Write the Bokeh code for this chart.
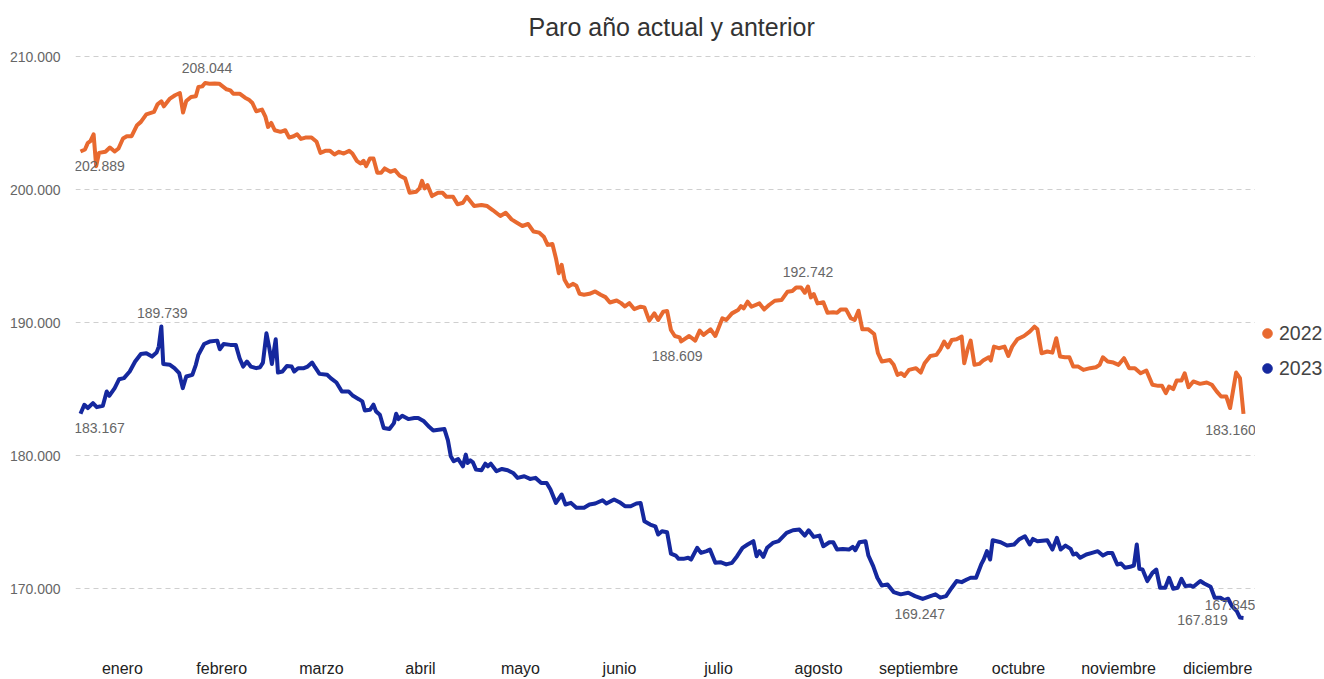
from bokeh.plotting import figure
from bokeh.layouts import row
from bokeh.models import ColumnDataSource, FixedTicker, Legend, LegendItem
from bokeh.embed import file_html
from bokeh.resources import INLINE
from bokeh.core.properties import value

titulo = "Paro año actual y anterior"
meses = ["enero", "febrero", "marzo", "abril", "mayo", "junio", "julio",
         "agosto", "septiembre", "octubre", "noviembre", "diciembre"]
posicion_meses = [14.1, 45.2, 76.4, 107.4, 138.7, 169.7, 200.7, 232.0, 263.3, 294.6, 325.9, 356.9]
ticks_y = [170000, 180000, 190000, 200000, 210000]
series = ["2022", "2023"]

# día del año y paro registrado (miles)
dias_2022 = [1, 2.4, 3.3, 4.1, 5.1, 5.9, 6.8, 8.8, 10.2, 11.7, 12.9, 14.3, 15.5, 17.0, 18.7, 19.9,
             21.6, 24.0, 25.1, 26.3, 27.1, 29.0, 30.6, 32.1, 33.1, 34.1, 35.6, 37.1, 37.9, 39.1,
             40.0, 41.4, 43.0, 44.4, 45.5, 46.7, 47.9, 48.8, 50.8, 52.5, 53.7, 54.8, 56.0, 57.8,
             58.9, 59.7, 60.7, 61.8, 63.6, 65.1, 66.3, 67.7, 68.8, 70.0, 71.4, 73.3, 74.9, 76.1,
             77.6, 79.1, 80.5, 81.9, 83.4, 85.1, 86.1, 87.5, 88.6, 89.6, 90.4, 91.6, 92.7, 93.9,
             95.1, 96.2, 98.0, 99.4, 100.9, 102.6, 104.0, 106.1, 107.1, 107.9, 108.7, 109.6,
             111.0, 112.9, 114.3, 115.5, 117.6, 119.0, 120.7, 121.9, 124.2, 126.5, 128.3, 130.0,
             132.4, 134.1, 135.9, 137.6, 139.3, 141.1, 142.8, 144.6, 146.0, 147.2, 148.7, 149.8,
             150.7, 151.6, 152.5, 153.7, 155.1, 156.2, 157.2, 158.6, 160.3, 162.1, 163.8, 165.3,
             166.7, 168.8, 170.2, 171.4, 172.8, 174.3, 176.3, 177.5, 179.0, 180.6, 181.8, 183.4,
             184.6, 185.8, 187.0, 188.5, 189.0, 191.5, 193.4, 194.8, 196.0, 198.2, 199.7, 201.9,
             203.1, 204.9, 206.8, 207.7, 208.6, 209.8, 211.0, 213.5, 215.0, 216.5, 218.3, 220.4,
             222.3, 223.8, 225.0, 226.5, 227.7, 228.7, 229.6, 230.5, 231.7, 233.5, 234.8, 236.6,
             237.8, 239.0, 240.6, 242.1, 243.3, 244.5, 245.7, 247.6, 249.4, 250.6, 251.8, 254.3,
             255.5, 256.7, 257.9, 258.9, 260.3, 262.5, 264.0, 265.2, 267.0, 268.9, 270.1, 271.3,
             272.5, 273.7, 275.2, 276.8, 277.6, 278.6, 279.6, 280.8, 282.3, 283.5, 285.3, 285.9,
             286.9, 288.4, 290.2, 291.4, 292.6, 294.2, 296.3, 298.1, 299.6, 300.5, 301.8, 303.6,
             305.2, 306.4, 307.6, 309.1, 310.5, 311.7, 313.3, 314.9, 317.0, 318.8, 320.0, 321.0,
             322.5, 324.3, 325.9, 327.6, 329.2, 331.0, 332.8, 334.6, 336.5, 338.3, 339.5, 340.7,
             341.7, 343.0, 344.1, 345.6, 346.6, 347.8, 349.3, 351.4, 353.5, 355.1, 356.6, 358.0,
             359.6, 360.8, 362.7, 363.9, 365.0]
paro_2022 = [202.889, 203.04, 203.54, 203.67, 204.19, 201.79, 202.79, 202.87, 203.19, 202.89, 203.12,
             203.87, 204.04, 204.04, 204.87, 205.12, 205.69, 205.87, 206.44, 206.67, 206.29, 206.87,
             207.12, 207.29, 205.82, 206.69, 206.99, 207.04, 207.74, 207.79, 208.044, 207.99, 208.00,
             207.99, 207.79, 207.57, 207.49, 207.24, 207.24, 206.94, 206.79, 206.54, 205.92, 206.04,
             205.49, 204.74, 205.04, 204.49, 204.37, 204.49, 203.94, 204.04, 204.19, 203.84, 203.94,
             203.94, 203.62, 202.79, 202.94, 202.94, 202.67, 202.87, 202.74, 202.94, 202.74, 202.19,
             201.99, 202.19, 201.79, 202.37, 202.37, 201.29, 201.29, 201.62, 201.37, 201.49, 201.07,
             200.87, 199.79, 199.87, 200.12, 200.69, 200.12, 200.37, 199.54, 199.79, 199.79, 199.49,
             199.49, 198.92, 199.04, 199.49, 198.79, 198.87, 198.79, 198.49, 198.04, 198.29, 197.79,
             197.54, 197.29, 197.44, 196.87, 196.79, 196.49, 195.87, 195.94, 194.87, 193.74, 194.37,
             193.24, 192.74, 192.94, 192.79, 192.19, 192.12, 192.19, 192.37, 192.12, 191.94, 191.54,
             191.69, 191.49, 191.24, 191.49, 191.04, 191.22, 191.17, 190.17, 190.72, 190.22, 190.85,
             190.90, 189.47, 189.02, 188.92, 188.609, 189.02, 188.67, 189.42, 189.10, 189.52, 189.02,
             190.35, 190.22, 190.72, 190.97, 191.27, 191.10, 191.60, 191.22, 191.47, 191.02, 191.35,
             191.67, 191.72, 192.35, 192.40, 192.67, 192.67, 192.27, 192.742, 191.92, 192.17, 191.47,
             191.55, 190.77, 190.80, 190.77, 191.02, 191.02, 190.35, 190.22, 190.92, 189.52, 189.52,
             189.17, 187.72, 187.10, 187.22, 186.85, 186.10, 186.22, 186.02, 186.47, 186.60, 186.27,
             186.97, 187.52, 187.60, 188.02, 188.60, 188.17, 188.72, 188.77, 188.97, 186.97, 187.97,
             188.67, 186.85, 186.92, 187.17, 187.42, 187.17, 188.22, 188.10, 188.22, 187.52, 188.22,
             188.77, 189.02, 189.35, 189.72, 189.52, 187.72, 187.85, 187.77, 188.85, 187.47, 187.42,
             187.42, 186.72, 186.72, 186.47, 186.60, 186.67, 186.85, 187.42, 187.10, 187.02, 186.85,
             187.35, 186.60, 186.60, 186.22, 186.42, 185.35, 185.27, 185.27, 184.72, 185.22, 185.02,
             185.67, 185.67, 186.22, 185.17, 185.60, 185.42, 185.52, 185.35, 184.85, 184.47, 184.47,
             183.60, 186.27, 185.85, 183.160]

dias_2023 = [1, 2.2, 3.3, 4.9, 6.1, 8.0, 9.2, 10.0, 11.7, 13.1, 14.6, 16.4, 18.1, 19.9, 21.6, 23.4,
             24.8, 25.5, 26.3, 26.9, 29.0, 30.4, 31.9, 33.0, 34.1, 36.0, 37.1, 37.9, 39.7, 41.4,
             43.8, 44.6, 45.8, 47.9, 49.6, 50.8, 51.9, 53.1, 54.3, 56.0, 57.2, 58.1, 59.2, 60.1,
             60.9, 62.1, 62.8, 64.2, 65.6, 67.1, 67.9, 69.1, 70.9, 72.1, 73.5, 74.4, 75.8, 78.2,
             79.3, 81.1, 82.8, 84.9, 86.3, 88.1, 89.2, 90.0, 91.6, 92.7, 93.5, 94.7, 95.9, 97.7,
             99.1, 99.8, 100.5, 101.7, 103.6, 105.5, 106.7, 108.5, 110.2, 111.4, 113.1, 114.9,
             116.0, 116.9, 117.8, 119.2, 120.7, 121.6, 122.2, 123.0, 123.8, 124.8, 126.5, 127.7,
             128.5, 129.4, 131.2, 132.9, 134.7, 136.4, 137.8, 139.9, 141.7, 143.4, 145.2, 146.9,
             148.1, 149.8, 151.6, 152.8, 154.5, 156.2, 158.6, 160.3, 162.1, 164.4, 165.6, 168.0,
             169.7, 171.4, 173.2, 175.0, 176.3, 177.5, 179.3, 180.9, 181.8, 183.0, 184.6, 185.8,
             187.3, 188.2, 189.7, 191.2, 192.1, 194.0, 195.2, 197.0, 198.0, 199.7, 201.3, 203.1,
             204.9, 206.5, 208.2, 209.8, 211.6, 212.6, 213.5, 214.7, 215.9, 217.7, 219.5, 222.0,
             224.0, 226.0, 227.7, 228.9, 230.5, 232.3, 233.5, 235.4, 236.6, 237.8, 239.6, 241.5,
             242.7, 243.5, 244.8, 246.7, 247.6, 249.1, 250.4, 251.8, 253.6, 255.5, 257.7, 260.1,
             262.2, 264.6, 267.0, 268.6, 270.1, 271.9, 273.7, 275.2, 276.8, 278.4, 279.6, 281.3,
             282.9, 283.7, 284.7, 285.7, 286.5, 289.0, 291.0, 293.2, 294.7, 296.6, 298.1, 299.1,
             300.5, 303.6, 305.2, 306.6, 307.8, 309.3, 310.9, 311.7, 312.7, 313.9, 315.8, 317.6,
             319.4, 321.0, 322.5, 323.9, 325.5, 326.7, 327.9, 329.5, 330.7, 331.6, 332.4, 333.4,
             334.9, 336.5, 337.7, 338.9, 340.5, 341.7, 343.0, 344.4, 345.6, 346.8, 348.3, 349.3,
             351.5, 352.7, 354.7, 356.0, 357.8, 359.0, 360.2, 361.4, 362.9, 363.9, 365.0]
paro_2023 = [183.167, 183.85, 183.60, 183.97, 183.67, 183.77, 184.85, 184.52, 185.10, 185.77, 185.85,
             186.35, 187.10, 187.67, 187.72, 187.47, 187.77, 188.22, 189.739, 186.92, 186.85, 186.60,
             186.22, 185.10, 185.97, 186.10, 186.85, 187.60, 188.42, 188.60, 188.67, 188.02, 188.42,
             188.35, 188.35, 187.35, 186.72, 187.10, 186.72, 186.60, 186.67, 187.02, 189.22, 188.10,
             186.92, 188.77, 186.27, 186.35, 186.77, 186.72, 186.35, 186.60, 186.60, 186.72, 187.02,
             186.67, 186.17, 186.10, 185.85, 185.52, 184.85, 184.85, 184.52, 184.27, 184.10, 183.42,
             183.47, 183.85, 183.35, 183.10, 182.10, 182.02, 182.47, 183.17, 182.77, 183.02, 182.77,
             182.85, 182.85, 182.60, 182.17, 181.92, 181.97, 182.02, 181.17, 179.97, 179.60, 179.77,
             179.22, 180.10, 179.47, 179.67, 179.52, 178.97, 178.92, 179.42, 179.22, 179.42, 178.85,
             179.02, 178.92, 178.72, 178.35, 178.47, 178.27, 178.35, 177.97, 177.97, 177.47, 176.47,
             177.10, 176.35, 176.47, 176.10, 176.10, 176.35, 176.42, 176.67, 176.42, 176.72, 176.52,
             176.22, 176.22, 176.42, 176.46, 175.09, 174.84, 174.71, 174.09, 174.34, 174.26, 172.66,
             172.51, 172.26, 172.26, 172.34, 172.21, 173.09, 172.71, 172.84, 172.96, 171.96, 172.01,
             171.84, 171.96, 172.46, 173.09, 173.34, 173.59, 172.46, 172.84, 172.41, 173.09, 173.46,
             173.59, 174.21, 174.41, 174.46, 174.01, 174.41, 173.91, 174.01, 173.21, 173.51, 173.51,
             172.96, 173.01, 172.96, 173.16, 172.91, 173.51, 173.59, 172.51, 171.71, 170.84, 170.26,
             170.34, 169.76, 169.59, 169.71, 169.46, 169.247, 169.46, 169.59, 169.34, 169.46, 170.09,
             170.59, 170.51, 170.71, 170.84, 170.84, 171.84, 172.21, 172.84, 172.21, 173.66, 173.51,
             173.26, 173.34, 173.71, 173.96, 173.34, 173.76, 173.59, 173.66, 172.96, 173.84, 172.96,
             173.26, 173.01, 172.59, 172.66, 172.34, 172.59, 172.71, 172.84, 172.51, 172.71, 172.71,
             171.84, 171.91, 171.59, 171.66, 171.76, 173.34, 171.51, 171.46, 170.59, 171.21, 171.46,
             170.09, 170.09, 170.84, 170.01, 170.09, 170.76, 170.21, 170.26, 170.16, 170.59, 170.41,
             170.16, 169.34, 169.34, 169.16, 169.26, 168.71, 168.33, 167.845, 167.819]

# días cuyos valores llevan etiqueta
etiquetas_2022 = [1, 40.0, 189.0, 228.7, 365.0]
etiquetas_2023 = [1, 26.3, 264.6, 363.9, 365.0]

color_2022 = "#E8692F"
color_2023 = "#15289E"
FONT = "Liberation Sans"


def fmt(v):
    return f"{v:,}".replace(",", ".")


y_2022 = [round(v * 1000) for v in paro_2022]
y_2023 = [round(v * 1000) for v in paro_2023]

p = figure(width=1255, height=679, output_backend="svg", toolbar_location=None,
           x_range=(-0.565, 368.76), y_range=(164918, 210863),
           min_border_left=75, min_border_right=0, min_border_top=45, min_border_bottom=22)
p.outline_line_color = None
p.background_fill_color = "white"
p.border_fill_color = "white"

p.title.text = titulo
p.title.align = "left"
p.title.offset = 453
p.title.text_font = FONT
p.title.text_font_size = "25px"
p.title.text_font_style = "normal"
p.title.text_color = "#333333"
p.title.standoff = 9

# ejes
p.xaxis.ticker = FixedTicker(ticks=posicion_meses)
p.xaxis.major_label_overrides = {pos: m for pos, m in zip(posicion_meses, meses)}
p.xaxis.major_label_text_font = FONT
p.xaxis.major_label_text_font_size = "16px"
p.xaxis.major_label_text_color = "#222222"
p.xaxis.major_label_standoff = 3

p.yaxis.ticker = FixedTicker(ticks=ticks_y)
p.yaxis.major_label_overrides = {t: fmt(t) for t in ticks_y}
p.yaxis.major_label_text_font = FONT
p.yaxis.major_label_text_font_size = "14px"
p.yaxis.major_label_text_color = "#666666"
p.yaxis.major_label_standoff = 15

for ax in (p.xaxis, p.yaxis):
    ax.axis_line_color = None
    ax.major_tick_line_color = None
    ax.minor_tick_line_color = None
    ax.major_tick_out = 0
    ax.major_tick_in = 0

p.xgrid.grid_line_color = None
p.ygrid.ticker = FixedTicker(ticks=ticks_y)
p.ygrid.grid_line_color = "#cfcfcf"
p.ygrid.grid_line_dash = "5 4"
p.ygrid.grid_line_width = 1

src22 = ColumnDataSource(dict(x=dias_2022, y=y_2022))
src23 = ColumnDataSource(dict(x=dias_2023, y=y_2023))
p.line("x", "y", source=src22, line_width=4, line_color=color_2022, line_join="round")
p.line("x", "y", source=src23, line_width=4, line_color=color_2023, line_join="round")

# etiquetas de datos
off22 = [(19, 14.5), (2, -14.5), (-4, 14.5), (0, -14.5), (-13, 16.5)]
off23 = [(19, 14), (1, -13.6), (-3, 14.6), (-10, -13), (-41, 2)]
lx, ly, lt, dx, dy = [], [], [], [], []
for dias, ys, etq, offs in ((dias_2022, y_2022, etiquetas_2022, off22),
                            (dias_2023, y_2023, etiquetas_2023, off23)):
    for d, (ox, oy) in zip(etq, offs):
        i = dias.index(d)
        lx.append(dias[i]); ly.append(ys[i]); lt.append(fmt(ys[i]))
        dx.append(ox); dy.append(oy)
lab = ColumnDataSource(dict(x=lx, y=ly, t=lt, dx=dx, dy=dy))
p.text("x", "y", text="t", source=lab, x_offset="dx", y_offset="dy",
       text_align="center", text_baseline="middle", text_font=value(FONT),
       text_font_size="14px", text_color="#666666")

# leyenda en una figura estrecha a la derecha
q = figure(width=69, height=679, output_backend="svg", toolbar_location=None,
           x_range=(0, 1), y_range=(0, 1), x_axis_location=None, y_axis_location=None,
           min_border=0, title=None)
q.outline_line_color = None
q.grid.visible = False
q.background_fill_color = "white"
q.border_fill_color = "white"
nan = float("nan")
r22 = q.scatter(x=[nan], y=[nan], marker="circle", size=12, fill_color=color_2022, line_color=color_2022)
r23 = q.scatter(x=[nan], y=[nan], marker="circle", size=12, fill_color=color_2023, line_color=color_2023)
legend = Legend(items=[LegendItem(label=series[0], renderers=[r22]),
                       LegendItem(label=series[1], renderers=[r23])],
                location=(0, 275), orientation="vertical",
                glyph_width=24, glyph_height=26, label_standoff=0, spacing=9,
                padding=0, margin=0, border_line_color=None, background_fill_alpha=0,
                label_text_font=FONT, label_text_font_size="19.5px", label_text_color="#444444",
                label_text_baseline="middle")
q.add_layout(legend)

layout = row(p, q, spacing=0)
open("out.html", "w").write(file_html(layout, INLINE))
